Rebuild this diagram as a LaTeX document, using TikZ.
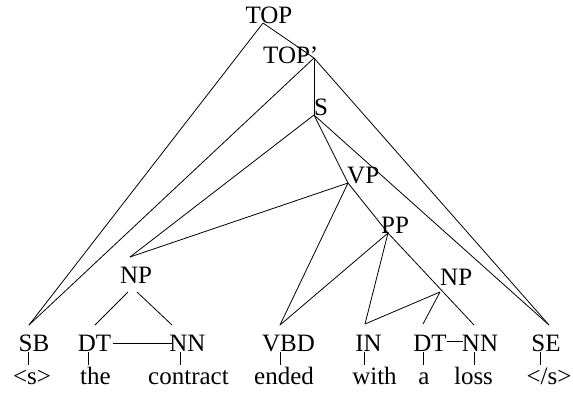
\documentclass[tikz,border=0pt]{standalone}
\usepackage{fontspec}
\setmainfont{Liberation Serif}
\begin{document}
\begin{tikzpicture}[x=1pt,y=-1pt,
  lbl/.style={inner sep=0pt,font=\fontsize{25}{30}\selectfont,anchor=base},
  lblw/.style={lbl,anchor=base west},
  edge/.style={line width=0.8pt}]
\useasboundingbox (0,0) rectangle (573,392);

% phrase labels
\node[lbl]  (topL)  at (269,23)  {TOP};
\node[lblw] (toppL) at (263,63)  {TOP'};
\node[lblw] (sL)    at (314,115) {S};
\node[lblw] (vpL)   at (347,183) {VP};
\node[lblw] (ppL)   at (381,233) {PP};
\node[lbl]  (npaL)  at (136,283) {NP};
\node[lblw] (npbL)  at (440,285) {NP};

% part-of-speech tags
\node[lbl] (sbL)  at (34,351)    {SB};
\node[lbl] (dtaL) at (94.5,351)  {DT};
\node[lbl] (nnaL) at (187.5,351) {NN};
\node[lbl] (vbdL) at (288.5,351) {VBD};
\node[lbl] (inL)  at (368.5,351) {IN};
\node[lbl] (dtbL) at (430,351)   {DT};
\node[lbl] (nnbL) at (480,351)   {NN};
\node[lbl] (seL)  at (546,351)   {SE};

% words
\node[lbl] (w1) at (32,384)    {<s>};
\node[lbl] (w2) at (95.5,384)  {the};
\node[lbl] (w3) at (188.5,384) {contract};
\node[lbl] (w4) at (284,384)   {ended};
\node[lbl] (w5) at (374.5,384) {with};
\node[lbl] (w6) at (424,384)   {a};
\node[lbl] (w7) at (473.5,384) {loss};
\node[lbl] (w8) at (549,384)   {</s>};

% attachment points of the edges
\coordinate (top)  at (263,23);
\coordinate (topp) at (314,58);
\coordinate (s)    at (314,115);
\coordinate (vp)   at (348,183);
\coordinate (pp)   at (388,233);
\coordinate (npa)  at (130,257);
\coordinate (npb)  at (440,292);
\coordinate (sb)   at (29,325);
\coordinate (vbd)  at (280,325);
\coordinate (in)   at (365,324);
\coordinate (dtb)  at (423,324);
\coordinate (nnb)  at (474,325);
\coordinate (se)   at (549,325);
\coordinate (npaL1) at (128,292);
\coordinate (npaR1) at (137,292);
\coordinate (dta)  at (95,325);
\coordinate (nna)  at (172,325);

% graph edges
\draw[edge] (top) -- (sb);
\draw[edge] (top) -- (topp);
\draw[edge] (topp) -- (sb);
\draw[edge] (topp) -- (s);
\draw[edge] (topp) -- (se);
\draw[edge] (s) -- (npa);
\draw[edge] (s) -- (vp);
\draw[edge] (s) -- (se);
\draw[edge] (vp) -- (npa);
\draw[edge] (vp) -- (vbd);
\draw[edge] (vp) -- (pp);
\draw[edge] (pp) -- (vbd);
\draw[edge] (pp) -- (in);
\draw[edge] (pp) -- (nnb);
\draw[edge] (npb) -- (in);
\draw[edge] (npb) -- (dtb);
\draw[edge] (npaL1) -- (dta);
\draw[edge] (npaR1) -- (nna);

% links between sibling tags
\coordinate (dtaE) at (113,343);
\coordinate (nnaW) at (172,343);
\coordinate (dtbE) at (447,341);
\coordinate (nnbW) at (463,341);
\draw[edge] (dtaE) -- (nnaW);
\draw[edge] (dtbE) -- (nnbW);

% tag-to-word ticks
\foreach \vx/\nm in {28/a,88/b,180/c,280/d,364/e,423/f,474/g,540/h}{
  \coordinate (tk\nm1) at (\vx,352);
  \coordinate (tk\nm2) at (\vx,365);
  \draw[edge] (tk\nm1) -- (tk\nm2);
}
\end{tikzpicture}
\end{document}
